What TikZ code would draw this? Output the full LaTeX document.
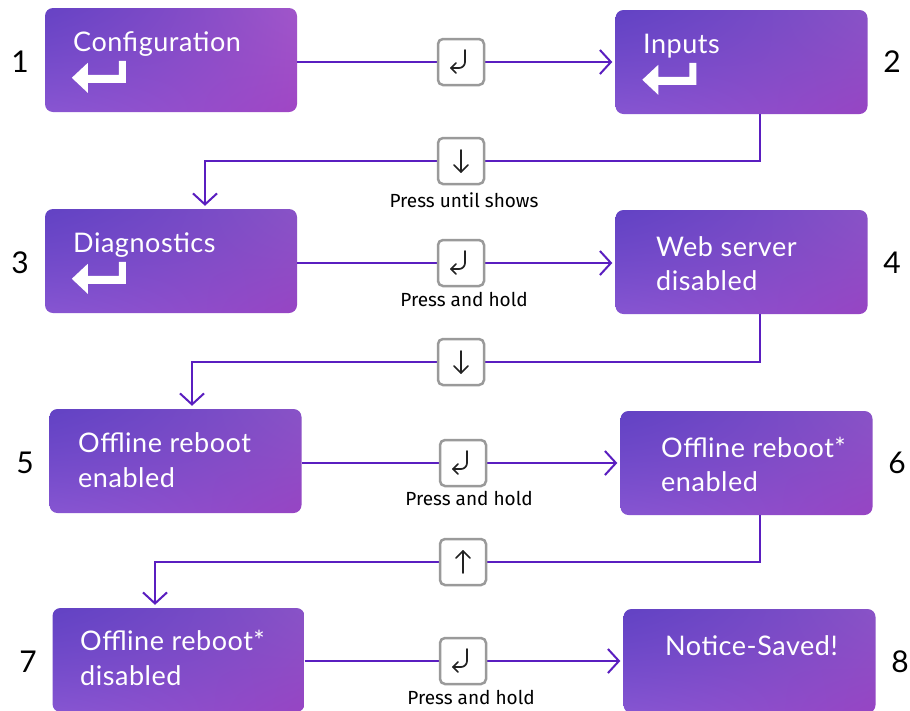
\documentclass[tikz,border=0pt]{standalone}
\usepackage{fontspec}
\setmainfont{Lato}
\newfontfamily\labelfont{Fira Sans}
\newfontfamily\boxfont[LetterSpace=2]{Lato}
\usetikzlibrary{arrows.meta}
\definecolor{connc}{HTML}{5A1EC0}
\definecolor{btngray}{HTML}{9A9A9A}
\definecolor{icon}{HTML}{222222}
\pgfdeclarefunctionalshading{boxshade}{\pgfpoint{-50bp}{-50bp}}{\pgfpoint{50bp}{50bp}}{}{
50 exch sub 100 div exch 50 add 100 div exch
exch dup sqrt mul exch dup sqrt mul
2 copy 2 copy mul -0.32 mul exch 0.31 mul add exch 0.33 mul add 0.31 add 3 1 roll
2 copy 2 copy mul -0.47 mul exch 0.20 mul add exch 0.18 mul add 0.22 add 3 1 roll
2 copy mul -0.24 mul exch 0.13 mul add exch 0.05 mul add 0.75 add
}
\pgfdeclarefunctionalshading{boxshadepink}{\pgfpoint{-50bp}{-50bp}}{\pgfpoint{50bp}{50bp}}{}{
50 exch sub 100 div exch 50 add 100 div exch
exch dup sqrt mul exch dup sqrt mul
2 copy 2 copy mul -0.48 mul exch 0.31 mul add exch 0.49 mul add 0.31 add 3 1 roll
2 copy 2 copy mul -0.49 mul exch 0.20 mul add exch 0.20 mul add 0.22 add 3 1 roll
2 copy mul -0.26 mul exch 0.13 mul add exch 0.07 mul add 0.75 add
}
\tikzset{
  stepbox/.style={shade, shading=boxshade, rounded corners=8pt, minimum width=252pt, minimum height=104pt, inner sep=0pt},
  boxtext/.style={anchor=base west, text=white, font=\boxfont\fontsize{27}{30}\selectfont, inner sep=0pt},
  numtext/.style={font=\fontsize{30}{32}\selectfont, text=black, inner sep=0pt},
  btn/.style={draw=btngray, line width=2.5pt, fill=white, rounded corners=5pt, minimum size=46pt, inner sep=0pt},
  conn/.style={draw=connc, line width=2pt},
  connarrow/.style={conn, -{Straight Barb[length=11pt,width=24pt,line width=2pt]}, shorten >=3pt},
  btnlabel/.style={anchor=base, font=\labelfont\fontsize{19}{21}\selectfont, text=black, inner sep=0pt},
  iconline/.style={draw=icon, line width=1.7pt, line cap=round, line join=round},
  entericon/.pic={\fill[white] (81,53) -- (81,75) -- (43,75) -- (43,85) -- (27,70) -- (43,55) -- (43,67) -- (74,67) -- (74,53) -- cycle;},
  keyenter/.pic={\draw[iconline, rounded corners=6pt] (4,-12) -- (4,6) -- (-10,6); \draw[iconline] (-5,1) -- (-10,6) -- (-5,11);},
  keydown/.pic={\draw[iconline] (0,-11) -- (0,11); \draw[iconline] (-7,4) -- (0,11) -- (7,4);},
  keyup/.pic={\draw[iconline] (0,11) -- (0,-11); \draw[iconline] (-7,-4) -- (0,-11) -- (7,-4);}
}
\begin{document}
\begin{tikzpicture}[x=1pt,y=-1pt]
\fill[white] (0,0) rectangle (910,710);
\useasboundingbox (0,0) rectangle (910,710);
% boxes
\node[stepbox, shading=boxshadepink] (b1) at (171,60) {};
\node[stepbox] (b2) at (741.5,62) {};
\node[stepbox] (b3) at (171,261) {};
\node[stepbox] (b4) at (741.5,262) {};
\node[stepbox] (b5) at (175.5,461) {};
\node[stepbox] (b6) at (746.5,463) {};
\node[stepbox] (b7) at (178.5,660) {};
\node[stepbox] (b8) at (749.5,661) {};
% box texts
\node[boxtext] (t1) at (73,51) {Configuration};
\pic at (b1.north west) {entericon};
\node[boxtext] (t2) at (643,53) {Inputs};
\pic at (b2.north west) {entericon};
\node[boxtext] (t3) at (73,252) {Diagnostics};
\pic at (b3.north west) {entericon};
\node[boxtext] (t4a) at (656,256) {Web server};
\node[boxtext] (t4b) at (656,290) {disabled};
\node[boxtext] (t5a) at (78,452) {Offline reboot};
\node[boxtext] (t5b) at (78,487) {enabled};
\node[boxtext] (t6a) at (661,457) {Offline reboot*};
\node[boxtext] (t6b) at (661,491) {enabled};
\node[boxtext] (t7a) at (80,650) {Offline reboot*};
\node[boxtext] (t7b) at (80,685) {disabled};
\node[boxtext] (t8) at (665,655) {Notice-Saved!};
% numbers
\node[numtext] (n1) at (20,62) {1};
\node[numtext] (n2) at (892,62) {2};
\node[numtext] (n3) at (20,263) {3};
\node[numtext] (n4) at (892,263) {4};
\node[numtext] (n5) at (25,463) {5};
\node[numtext] (n6) at (897,463) {6};
\node[numtext] (n7) at (28,662) {7};
\node[numtext] (n8) at (900,662) {8};
% connector coordinates
\coordinate (k1) at (461,62);
\coordinate (k3) at (461,263);
\coordinate (k5) at (463,463);
\coordinate (k7) at (463,661);
\coordinate (v1a) at (760,161);
\coordinate (v1b) at (205,161);
\coordinate (v2a) at (760,362);
\coordinate (v2b) at (192,362);
\coordinate (v3a) at (760,562);
\coordinate (v3b) at (155,562);
% horizontal connectors
\draw[connarrow] (b1.east |- k1) -- (b2.west |- k1);
\draw[connarrow] (b3.east |- k3) -- (b4.west |- k3);
\draw[connarrow] (b5.east |- k5) -- (b6.west |- k5);
\draw[connarrow] (b7.east |- k7) -- (b8.west |- k7);
% vertical connectors
\draw[connarrow] (b2.south -| v1a) -- (v1a) -- (v1b) -- (b3.north -| v1b);
\draw[connarrow] (b4.south -| v2a) -- (v2a) -- (v2b) -- (b5.north -| v2b);
\draw[connarrow] (b6.south -| v3a) -- (v3a) -- (v3b) -- (b7.north -| v3b);
% buttons
\node[btn] (k1n) at (k1) {};
\pic at (k1n) {keyenter};
\node[btn] (k3n) at (k3) {};
\pic at (k3n) {keyenter};
\node[btn] (k5n) at (k5) {};
\pic at (k5n) {keyenter};
\node[btn] (k7n) at (k7) {};
\pic at (k7n) {keyenter};
\node[btn] (d1) at (461,161) {};
\pic at (d1) {keydown};
\node[btn] (d2) at (461,362) {};
\pic at (d2) {keydown};
\node[btn] (d3) at (463,562) {};
\pic at (d3) {keyup};
% labels
\node[btnlabel] (l1) at (464,207) {Press until shows};
\node[btnlabel] (l2) at (464,306) {Press and hold};
\node[btnlabel] (l3) at (469,505) {Press and hold};
\node[btnlabel] (l4) at (471,704) {Press and hold};
\end{tikzpicture}
\end{document}
